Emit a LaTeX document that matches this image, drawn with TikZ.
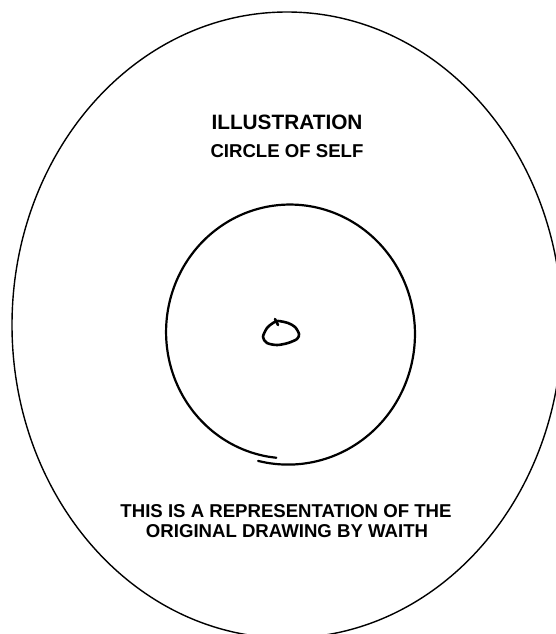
\documentclass[tikz,border=0pt]{standalone}
\usepackage{fontspec}
\setmainfont{Liberation Sans}
\usetikzlibrary{positioning}
\tikzset{
  rim/.style     = {line width=1.4pt},
  pen/.style     = {line width=2.2pt, line cap=round, line join=round},
  dotpen/.style  = {line width=2.6pt, line cap=round, line join=round},
  head/.style    = {font=\bfseries\fontsize{20.8}{24}\selectfont, inner sep=0pt, anchor=base},
  lbl/.style     = {font=\bfseries\fontsize{18.6}{21}\selectfont, inner sep=0pt, anchor=base},
}

\begin{document}
\begin{tikzpicture}[x=1pt,y=-1pt]
  \useasboundingbox (0,0) rectangle (556,634);
  \clip (0,0) rectangle (556,634);
  % outer boundary
  \draw[rim] (287,325) ellipse [x radius=275, y radius=313];
  % titles
  \node[head] (title) at (287,129) {ILLUSTRATION};
  \node[lbl] (sub) at (287,157) {CIRCLE OF SELF};
  % hand drawn circle, ends overlap at the bottom
  \draw[pen] plot[smooth, samples=90, domain=104:-264]
    ({289+124*(1.03-0.05*(104-\x)/368)*cos(\x)},
     {333+128*(1.03-0.05*(104-\x)/368)*sin(\x)});
  % small centre
  \draw[dotpen] plot[smooth cycle] coordinates {(278,321) (288,323) (295,327)
    (299,334) (297,339) (288,343) (277,345) (267,343) (263,337) (267,328) (273,323)};
  \draw[dotpen] (275,319) -- (278,325);
  % note
  \node[lbl] (note1) at (286,517) {THIS IS A REPRESENTATION OF THE};
  \node[lbl] (note2) at (287,537.5) {ORIGINAL DRAWING BY WAITH};
\end{tikzpicture}
\end{document}
